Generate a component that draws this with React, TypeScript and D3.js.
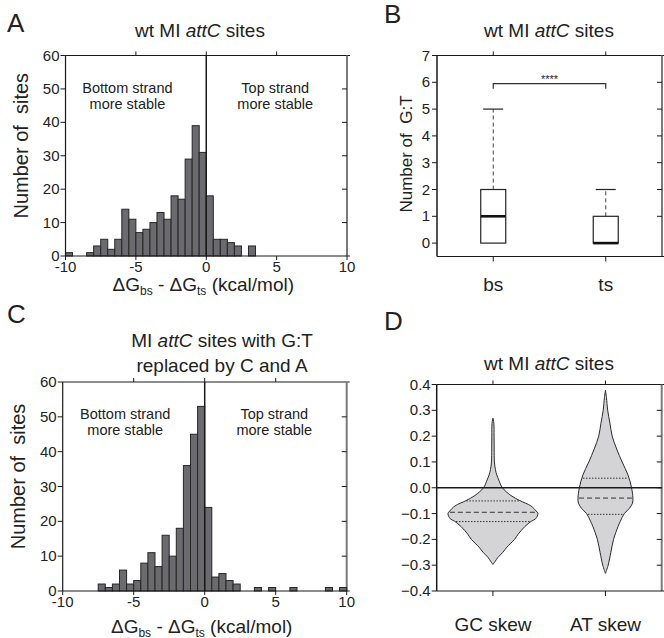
import React from 'react';
import * as d3 from 'd3';

const FONT = 'Liberation Sans, Arial, Helvetica, sans-serif';

// histogram bins, 0.5 kcal/mol wide, first bin starts at -10
const binStarts = d3.range(-10, 10, 0.5);
const wtCounts = [
  1, 0, 0, 1, 3, 5, 2, 5, 14, 11, 7, 8, 10, 13, 11, 18, 17, 29, 39, 31,
  18, 5, 5, 4, 3, 0, 3, 0, 0, 0, 0, 0, 0, 0, 0, 0, 0, 0, 0, 0,
];
const replacedCounts = [
  0, 0, 0, 0, 0, 2, 1, 2, 6, 2, 3, 8, 11, 7, 16, 10, 18, 36, 45, 53,
  24, 4, 5, 3, 2, 0, 0, 1, 0, 1, 0, 0, 1, 0, 0, 0, 0, 1, 0, 1,
];
const histXTicks = [-10, -5, 0, 5, 10];
const histYTicks = [0, 10, 20, 30, 40, 50, 60];

// number of G:T per strand (box plot)
const strands = ['bs', 'ts'];
const gtStats = [
  { min: 0, q1: 0, median: 1, q3: 2, max: 5 },
  { min: 0, q1: 0, median: 0, q3: 1, max: 2 },
];
const gtTicks = [0, 1, 2, 3, 4, 5, 6, 7];
const gtSignif = '****';

// skew violins (relative density at each skew value)
const skewNames = ['GC skew', 'AT skew'];
const gcSkewValues = [0.27, 0.25, 0.2, 0.15, 0.1, 0.07, 0.05, 0.03, 0.0, -0.03, -0.05, -0.07, -0.09, -0.1, -0.12, -0.13, -0.15, -0.18, -0.2, -0.23, -0.25, -0.27, -0.285, -0.297];
const gcSkewDensity = [0, 0.02, 0.025, 0.027, 0.033, 0.055, 0.085, 0.13, 0.21, 0.4, 0.6, 0.84, 0.96, 1.0, 0.95, 0.85, 0.71, 0.56, 0.48, 0.31, 0.22, 0.11, 0.05, 0];
const atSkewValues = [0.378, 0.35, 0.3, 0.25, 0.2, 0.15, 0.1, 0.05, 0.0, -0.04, -0.06, -0.08, -0.1, -0.13, -0.15, -0.2, -0.25, -0.3, -0.332];
const atSkewDensity = [0, 0.022, 0.05, 0.1, 0.15, 0.25, 0.37, 0.5, 0.58, 0.61, 0.6, 0.53, 0.42, 0.33, 0.28, 0.18, 0.12, 0.06, 0];
const gcQuartiles = [-0.051, -0.095, -0.131];
const atQuartiles = [0.037, -0.04, -0.103];
const skewTicks = [0.4, 0.3, 0.2, 0.1, 0.0, -0.1, -0.2, -0.3, -0.4];

const AXIS = '#1a1a1a';
const FRAME = '#7a7a7a';
const PRE = { whiteSpace: 'pre' } as React.CSSProperties;

const DeltaLabel = ({ x, y }) => (
  <text x={x} y={y} textAnchor="middle" fontSize={19} fontFamily={FONT} fill="#222" style={PRE}>
    ΔG<tspan fontSize={12} dy={4}>bs</tspan>
    <tspan dy={-4}> - ΔG</tspan>
    <tspan fontSize={12} dy={4}>ts</tspan>
    <tspan dy={-4}> (kcal/mol)</tspan>
  </text>
);

const Frame = ({ left, right, top, bottom, rightTicks, topTicks }) => (
  <g>
    <line x1={left} x2={right + 3} y1={top} y2={top} stroke={AXIS} strokeWidth={1.2} />
    {topTicks.map((t, i) => (
      <line key={i} x1={t} x2={t} y1={top} y2={top - 4} stroke={AXIS} strokeWidth={1} />
    ))}
    <line x1={right} x2={right} y1={top} y2={bottom} stroke={FRAME} strokeWidth={2} />
    {rightTicks.map((t, i) => (
      <line key={i} x1={right} x2={right - 5} y1={t} y2={t} stroke={AXIS} strokeWidth={1} />
    ))}
  </g>
);

function Histogram({ counts, left, right, top, bottom, labelY }) {
  const x = d3.scaleLinear().domain([-10, 10]).range([left, right]);
  const y = d3.scaleLinear().domain([0, 60]).range([bottom, top]);
  const bins = binStarts.map((s, i) => ({ s, n: counts[i] })).filter(d => d.n > 0);
  const cx = (left + right) / 2;
  return (
    <g fontFamily={FONT} fill="#222">
      <Frame
        left={left} right={right} top={top} bottom={bottom}
        topTicks={[-5, 0, 5].map(x)}
        rightTicks={histYTicks.slice(1, -1).map(y)}
      />
      {bins.map((d, i) => (
        <rect
          key={i}
          x={x(d.s)}
          y={y(d.n)}
          width={x(d.s + 0.5) - x(d.s)}
          height={y(0) - y(d.n)}
          fill="#6a6a6f"
          stroke="#262626"
          strokeWidth={1}
        />
      ))}
      <line x1={x(0)} x2={x(0)} y1={top} y2={bottom} stroke={AXIS} strokeWidth={1.5} />
      <line x1={left} x2={left} y1={top} y2={bottom} stroke={AXIS} strokeWidth={1.2} />
      <line x1={left} x2={right + 3} y1={bottom} y2={bottom} stroke={AXIS} strokeWidth={1.2} />
      {histYTicks.map(t => (
        <g key={t}>
          <line x1={left - 5} x2={left} y1={y(t)} y2={y(t)} stroke={AXIS} />
          <text x={left - 6} y={y(t) + 5} textAnchor="end" fontSize={15}>{t}</text>
        </g>
      ))}
      {histXTicks.map(t => (
        <g key={t}>
          <line x1={x(t)} x2={x(t)} y1={bottom} y2={bottom + 4} stroke={AXIS} />
          <text x={x(t)} y={bottom + 16} textAnchor="middle" fontSize={15}>{t}</text>
        </g>
      ))}
      <text x={x(-5.6)} y={top + 37} textAnchor="middle" fontSize={14.5}>Bottom strand</text>
      <text x={x(-5.6)} y={top + 53} textAnchor="middle" fontSize={14.5}>more stable</text>
      <text x={x(4.9)} y={top + 37} textAnchor="middle" fontSize={14.5}>Top strand</text>
      <text x={x(4.9)} y={top + 53} textAnchor="middle" fontSize={14.5}>more stable</text>
      <text
        transform={`translate(${left - 38},${(top + bottom) / 2 - 10}) rotate(-90)`}
        textAnchor="middle"
        fontSize={20}
        style={PRE}
      >
        Number of  sites
      </text>
      <DeltaLabel x={cx - 3} y={labelY} />
    </g>
  );
}

function BoxPanel() {
  const left = 437, right = 662, top = 55.5, bottom = 256.5;
  const x = d3.scalePoint().domain(strands).range([left, right]).padding(0.5);
  const y = d3.scaleLinear().domain([-0.5, 7]).range([bottom, top]);
  const bw = 25;
  const bracketY = y(5.95);
  return (
    <g fontFamily={FONT} fill="#222">
      <Frame
        left={left} right={right} top={top} bottom={bottom}
        topTicks={strands.map(s => x(s))}
        rightTicks={gtTicks.slice(1, -1).map(y)}
      />
      <line x1={left} x2={left} y1={top} y2={bottom} stroke={AXIS} strokeWidth={1.5} />
      <line x1={left} x2={right + 3} y1={bottom} y2={bottom} stroke={AXIS} strokeWidth={1.2} />
      {gtTicks.map(t => (
        <g key={t}>
          <line x1={left - 5} x2={left} y1={y(t)} y2={y(t)} stroke={AXIS} />
          <text x={left - 7} y={y(t) + 5} textAnchor="end" fontSize={15}>{t}</text>
        </g>
      ))}
      {strands.map((s, i) => {
        const d = gtStats[i];
        const cx = x(s);
        return (
          <g key={s}>
            <line x1={cx} x2={cx} y1={bottom} y2={bottom + 5} stroke={AXIS} />
            <text x={cx} y={bottom + 34} textAnchor="middle" fontSize={19}>{s}</text>
            <line x1={cx} x2={cx} y1={y(d.q3)} y2={y(d.max)} stroke="#444" strokeDasharray="4,3" strokeWidth={1} />
            <line x1={cx - 10} x2={cx + 10} y1={y(d.max)} y2={y(d.max)} stroke="#222" strokeWidth={1.2} />
            <rect x={cx - bw / 2} y={y(d.q3)} width={bw} height={y(d.q1) - y(d.q3)} fill="#fff" stroke="#222" strokeWidth={1.2} />
            <line x1={cx - bw / 2} x2={cx + bw / 2} y1={y(d.median)} y2={y(d.median)} stroke="#111" strokeWidth={2.6} />
          </g>
        );
      })}
      <path
        d={`M${x('bs')},${bracketY + 5}V${bracketY}H${x('ts')}V${bracketY + 5}`}
        fill="none"
        stroke="#333"
        strokeWidth={1.2}
      />
      <text x={(x('bs') + x('ts')) / 2} y={bracketY - 1} textAnchor="middle" fontSize={11}>{gtSignif}</text>
      <text
        transform={`translate(${left - 25},${(top + bottom) / 2 - 2}) rotate(-90)`}
        textAnchor="middle"
        fontSize={17}
        style={PRE}
      >
        Number of  G:T
      </text>
    </g>
  );
}

function ViolinPanel() {
  const left = 436.7, right = 661.7, top = 384.5, bottom = 591;
  const x = d3.scalePoint().domain(skewNames).range([left, right]).padding(0.5);
  const y = d3.scaleLinear().domain([-0.4, 0.4]).range([bottom, top]);
  const w = d3.scaleLinear().domain([0, 1]).range([0, 45]);
  const violins = [
    { name: skewNames[0], vals: gcSkewValues, dens: gcSkewDensity, q: gcQuartiles },
    { name: skewNames[1], vals: atSkewValues, dens: atSkewDensity, q: atQuartiles },
  ];
  return (
    <g fontFamily={FONT} fill="#222">
      <Frame
        left={left} right={right} top={top} bottom={bottom}
        topTicks={skewNames.map(s => x(s))}
        rightTicks={skewTicks.slice(1, -1).map(y)}
      />
      <line x1={left} x2={left} y1={top} y2={bottom} stroke={AXIS} strokeWidth={1.5} />
      <line x1={left} x2={right + 3} y1={bottom} y2={bottom} stroke={AXIS} strokeWidth={1.2} />
      {skewTicks.map(t => (
        <g key={t}>
          <line x1={left - 5} x2={left} y1={y(t)} y2={y(t)} stroke={AXIS} />
          <text x={left - 6} y={y(t) + 5} textAnchor="end" fontSize={15}>{d3.format('.1f')(t)}</text>
        </g>
      ))}
      {violins.map(v => {
        const cx = x(v.name);
        const pts = v.vals.map((val, i) => ({ val, d: v.dens[i] }));
        const area = d3
          .area()
          .y(p => y(p.val))
          .x0(p => cx - w(p.d))
          .x1(p => cx + w(p.d))
          .curve(d3.curveCatmullRom);
        const densAt = d3.scaleLinear().domain(v.vals).range(v.dens);
        return (
          <g key={v.name}>
            <line x1={cx} x2={cx} y1={bottom} y2={bottom + 5} stroke={AXIS} />
            <text x={cx} y={bottom + 40} textAnchor="middle" fontSize={19}>{v.name}</text>
            <path d={area(pts)} fill="#d4d4d6" stroke="#2a2a2a" strokeWidth={1} />
            {v.q.map((qv, i) => {
              const hw = w(densAt(qv)) - 1;
              return (
                <line
                  key={i}
                  x1={cx - hw}
                  x2={cx + hw}
                  y1={y(qv)}
                  y2={y(qv)}
                  stroke="#333"
                  strokeWidth={1}
                  strokeDasharray={i === 1 ? '5,3' : '1.5,1.5'}
                />
              );
            })}
          </g>
        );
      })}
      <line x1={left} x2={right} y1={y(0)} y2={y(0)} stroke={AXIS} strokeWidth={1.5} />
    </g>
  );
}

const Title = ({ x, y, pre, post }) => (
  <text x={x} y={y} textAnchor="middle" fontSize={19} fontFamily={FONT} fill="#222" style={PRE}>
    {pre}<tspan fontStyle="italic">attC</tspan>{post}
  </text>
);

const PanelLetter = ({ x, y, children }) => (
  <text x={x} y={y} fontSize={26} fontFamily={FONT} fill="#222">{children}</text>
);

export default function App() {
  return (
    <svg
      width={664}
      height={638}
      style={{ position: 'absolute', left: 0, top: 0, background: '#fff' }}
    >
      <PanelLetter x={7} y={32}>A</PanelLetter>
      <PanelLetter x={384} y={23}>B</PanelLetter>
      <PanelLetter x={7} y={323}>C</PanelLetter>
      <PanelLetter x={384} y={330}>D</PanelLetter>

      <Title x={200} y={37} pre="wt MI " post=" sites" />
      <Title x={549} y={37} pre="wt MI " post=" sites" />
      <Title x={222} y={347} pre="MI " post=" sites with G:T" />
      <text x={222} y={372} textAnchor="middle" fontSize={19} fontFamily={FONT} fill="#222">
        replaced by C and A
      </text>
      <Title x={549} y={370} pre="wt MI " post=" sites" />

      <Histogram counts={wtCounts} left={65.5} right={347} top={55.5} bottom={256} labelY={291} />
      <BoxPanel />
      <Histogram counts={replacedCounts} left={62.7} right={346.7} top={382} bottom={591} labelY={633} />
      <ViolinPanel />
    </svg>
  );
}
